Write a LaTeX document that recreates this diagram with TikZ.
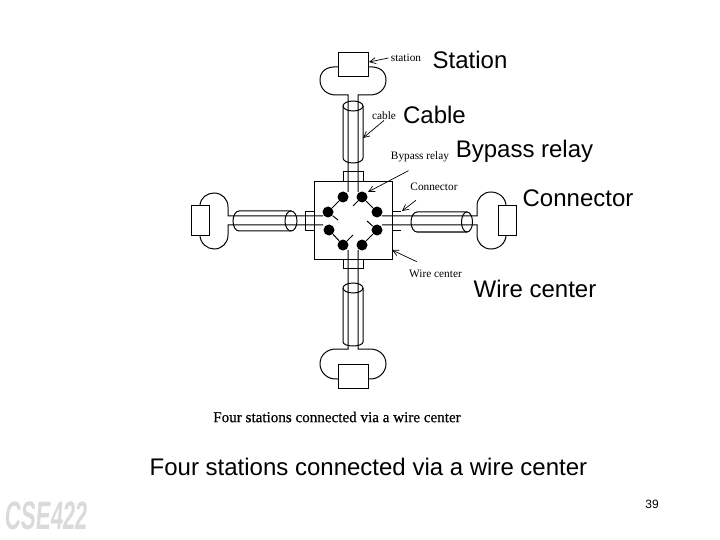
\documentclass[tikz,border=0pt]{standalone}
\usepackage{fontspec}
\usepackage{tikz}
\usetikzlibrary{arrows.meta,positioning}
\setmainfont{Liberation Serif}
\setsansfont{Liberation Sans}
\newfontfamily\capfont[FakeBold=0.5]{Liberation Serif}
\definecolor{logogray}{RGB}{218,218,218}

\begin{document}
\begin{tikzpicture}[
    x=1pt, y=-1pt,
    line width=1pt,
    stationbox/.style={draw, inner sep=0pt, minimum width=30pt, minimum height=24pt},
    sidebox/.style={draw, inner sep=0pt, minimum width=18pt, minimum height=29pt},
    relay/.style={circle, fill=black, inner sep=0pt, minimum size=11pt},
    small/.style={font=\fontsize{11.3}{13}\selectfont, inner sep=0pt},
    big/.style={font=\sffamily\fontsize{24}{28}\selectfont, inner sep=0pt},
    pointer/.style={-{Straight Barb[length=6pt,width=6pt]}, line width=0.7pt}
  ]
    \useasboundingbox (0,0) rectangle (720,540);

    % stations and wire center
    \node[stationbox] (top) at (353,65) {};
    \node[stationbox] (bottom) at (353,376) {};
    \node[sidebox] (left) at (200,220.5) {};
    \node[sidebox] (right) at (507,220.5) {};
    \node[draw, inner sep=0pt, minimum width=78pt, minimum height=77pt] (hub) at (353,220.5) {};

    % bypass relays
    \node[relay] (r1) at (343,197) {};
    \node[relay] (r2) at (362,197) {};
    \node[relay] (r3) at (328,212) {};
    \node[relay] (r4) at (377,212) {};
    \node[relay] (r5) at (329,230) {};
    \node[relay] (r6) at (377,230) {};
    \node[relay] (r7) at (343,245) {};
    \node[relay] (r8) at (362,245) {};
    \coordinate (b2) at (353,206);
    \coordinate (b3) at (338,220);
    \coordinate (b6) at (367,221);
    \coordinate (b7) at (353,235);
    \draw (r1) -- (r3);
    \draw (r2) -- (r4);
    \draw (r5) -- (r7);
    \draw (r6) -- (r8);
    \draw (r2) -- (b2);
    \draw (r3) -- (b3);
    \draw (r6) -- (b6);
    \draw (r7) -- (b7);

    % top station
    \draw (338,67) .. controls (327,66) and (320,71) .. (320,80) .. controls (320,89) and (327,95) .. (336,95) -- (348,95) -- (348,192);
    \draw (368,67) .. controls (379,66) and (386,71) .. (386,80) .. controls (386,89) and (379,95) .. (370,95) -- (358,95) -- (358,192);
    \draw (353,106) ellipse [x radius=10pt, y radius=5pt];
    \draw (343,106) -- (343,158) arc[start angle=180, end angle=360, x radius=10pt, y radius=5pt] -- (363,106);
    \draw (343,182) -- (343,172) -- (363,172) -- (363,182);

    % bottom station
    \draw (338,379) .. controls (327,380) and (320,372) .. (320,364) .. controls (320,355) and (327,349) .. (336,349) -- (348,349) -- (348,250);
    \draw (368,379) .. controls (379,380) and (386,372) .. (386,364) .. controls (386,355) and (379,349) .. (370,349) -- (358,349) -- (358,250);
    \draw (353,288) ellipse [x radius=10pt, y radius=5pt];
    \draw (343,288) -- (343,342) arc[start angle=180, end angle=360, x radius=10pt, y radius=4pt] -- (363,288);
    \draw (343,259) -- (343,268) -- (363,268) -- (363,259);

    % left station
    \draw (200,206) .. controls (200,198) and (207,193) .. (214,193) .. controls (222,193) and (228,199) .. (228,207) -- (228,216) -- (323,216);
    \draw (200,235) .. controls (200,243) and (207,249) .. (214,249) .. controls (222,249) and (228,243) .. (228,235) -- (228,225) -- (323,225);
    \draw (291,221) ellipse [x radius=6pt, y radius=10pt];
    \draw (291,211) -- (239,211) arc[start angle=90, end angle=270, x radius=6pt, y radius=10pt] -- (291,231);
    \draw (314,212) -- (305.5,212) -- (305.5,231) -- (314,231);

    % right station
    \draw (506,206) .. controls (506,198) and (499,192) .. (491,192) .. controls (483,192) and (477,198) .. (477,206) -- (477,216) -- (382,216);
    \draw (506,235) .. controls (506,243) and (499,249) .. (491,249) .. controls (483,249) and (477,243) .. (477,235) -- (477,225) -- (382,225);
    \draw (467,222) ellipse [x radius=5.5pt, y radius=10pt];
    \draw (467,212) -- (417,212) arc[start angle=90, end angle=270, x radius=6pt, y radius=10pt] -- (467,232);
    \draw (392,212) -- (401,212);
    \draw (392,231) -- (401,231);

    % small labels
    \node[small] (lstation) at (406,58) {station};
    \node[small] (lcable) at (384,116) {cable};
    \node[small] (lbypass) at (420,157) {Bypass relay};
    \node[small] (lconn) at (434,187) {Connector};
    \node[small] (lwire) at (435.5,274) {Wire center};
    \node[inner sep=0pt, font=\capfont\fontsize{15.1}{17}\selectfont] (lfour) at (337,417) {Four stations connected via a wire center};

    \coordinate (tstation) at (369,62);
    \coordinate (tcable) at (363,138);
    \coordinate (tbypass) at (368,192);
    \coordinate (tconn) at (402,211);
    \coordinate (twire) at (392,250);
    \draw[pointer] (lstation.west) ++(-2,0) -- (tstation);
    \draw[pointer] (lcable.south) -- (tcable);
    \draw[pointer] (lbypass.south west) ++(18,8) -- (tbypass);
    \draw[pointer] (lconn.south west) ++(6,9) -- (tconn);
    \draw[pointer] (lwire.north west) ++(8,-8) -- (twire);

    % big labels
    \node[big] at (470,60) {Station};
    \node[big] at (434.5,115) {Cable};
    \node[big] at (524.5,151) {Bypass relay};
    \node[big] at (578,198) {Connector};
    \node[big] at (535,289) {Wire center};
    \node[big] at (368.5,467) {Four stations connected via a wire center};
    \node[inner sep=0pt, font=\sffamily\fontsize{12}{14}\selectfont] at (652,504) {39};
    \node[inner sep=0pt, font=\sffamily\bfseries\fontsize{30}{32}\selectfont, text=logogray, xscale=0.74, yscale=1.32, xslant=0.14] at (47,516) {CSE422};
  \end{tikzpicture}
\end{document}
